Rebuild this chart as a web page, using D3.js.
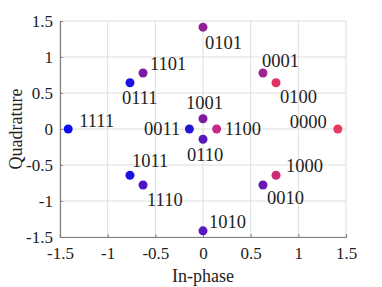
<!DOCTYPE html>
<html>
<head>
<meta charset="utf-8">
<script src="https://cdn.jsdelivr.net/npm/d3@7"></script>
<style>
  body { margin: 0; background: #fff; }
  svg text { font-family: 'Liberation Serif', 'Times New Roman', Times, serif; fill: #222; }
</style>
</head>
<body>
<div id="chart"></div>
<script>
// symbol labels, in-phase / quadrature values and colours
const labels = ["1111","0111","1101","0011","1001","0110","1100","0101",
                "0001","0100","0000","1011","1110","1000","0010","1010"]
const inPhase = [-1.414,-0.766,-0.629,-0.143, 0, 0, 0.143, 0,
                  0.629, 0.766, 1.414,-0.766,-0.629, 0.766, 0.629, 0]
const quadrature = [0, 0.643, 0.777, 0, 0.143,-0.143, 0, 1.414,
                    0.777, 0.643, 0,-0.643,-0.777,-0.643,-0.777,-1.414]
const colors = ["#0c0cf0","#1a12e2","#7a1ca4","#2414d8","#7c1aa0","#5418bc","#c42a84","#902096",
                "#a22490","#e0305e","#e83a5c","#1a12e2","#4a16c6","#cc2c74","#6a18b4","#5a16c0"]
const ticks = [-1.5, -1, -0.5, 0, 0.5, 1, 1.5]

// where each label sits relative to its dot [dx, dy, anchor]
const labelOffsets = [[11,-2,"start"],[-8,21,"start"],[7,-3,"start"],[-9,6,"end"],
                      [-17,-10,"start"],[-16,22,"start"],[8,6,"start"],[2,22,"start"],
                      [-1,-6,"start"],[4,20,"start"],[-11,-1,"end"],[2,-8,"start"],
                      [4,21,"start"],[10,-3,"start"],[4,19,"start"],[6,-3,"start"]]

var width = 382, height = 287
var margin = {top: 21, right: 36, bottom: 50, left: 60}
var serif = "'Liberation Serif', 'Times New Roman', Times, serif"

var svg = d3.select("#chart")
  .append("svg")
    .attr("width", width)
    .attr("height", height)
    .attr("font-family", serif)

var x = d3.scaleLinear().domain([-1.5, 1.5]).range([margin.left, width - margin.right])
var y = d3.scaleLinear().domain([-1.5, 1.5]).range([height - margin.bottom, margin.top])

// grid
svg.append("g").selectAll("line.gx")
  .data(ticks).enter().append("line")
    .attr("x1", d => x(d)).attr("x2", d => x(d))
    .attr("y1", y(-1.5)).attr("y2", y(1.5))
    .attr("stroke", "#dedede").attr("stroke-width", 1)
svg.append("g").selectAll("line.gy")
  .data(ticks).enter().append("line")
    .attr("y1", d => y(d)).attr("y2", d => y(d))
    .attr("x1", x(-1.5)).attr("x2", x(1.5))
    .attr("stroke", "#dedede").attr("stroke-width", 1)

// axes (ticks pointing inward like matlab), plain hyphen for minus
var fmt = d => String(d)
svg.append("g")
  .attr("transform", "translate(0," + y(-1.5) + ")")
  .call(d3.axisBottom(x).tickValues(ticks).tickSize(-3).tickPadding(10).tickFormat(fmt))
  .attr("font-family", serif)
  .attr("font-size", 17)
svg.append("g")
  .attr("transform", "translate(" + x(-1.5) + ",0)")
  .call(d3.axisLeft(y).tickValues(ticks).tickSize(-3).tickPadding(7).tickFormat(fmt))
  .attr("font-family", serif)
  .attr("font-size", 17)

svg.selectAll(".domain").attr("stroke", "#808080").attr("stroke-width", 1.2)
svg.selectAll(".tick line").attr("stroke", "#808080")
svg.selectAll(".tick text").attr("fill", "#262626")

// points
svg.selectAll("circle.pt")
  .data(labels).enter().append("circle")
    .attr("cx", (d, i) => x(inPhase[i]))
    .attr("cy", (d, i) => y(quadrature[i]))
    .attr("r", 4.5)
    .attr("fill", (d, i) => colors[i])

// point labels
svg.selectAll("text.lbl")
  .data(labels).enter().append("text")
    .attr("x", (d, i) => x(inPhase[i]) + labelOffsets[i][0])
    .attr("y", (d, i) => y(quadrature[i]) + labelOffsets[i][1])
    .attr("text-anchor", (d, i) => labelOffsets[i][2])
    .attr("font-size", 18.5)
    .text(d => d)

// axis titles
svg.append("text")
  .attr("x", x(0))
  .attr("y", 282)
  .attr("text-anchor", "middle")
  .attr("font-size", 18)
  .text("In-phase")

svg.append("text")
  .attr("transform", "translate(22," + y(0) + ")rotate(-90)")
  .attr("text-anchor", "middle")
  .attr("font-size", 18)
  .text("Quadrature")
</script>
</body>
</html>
